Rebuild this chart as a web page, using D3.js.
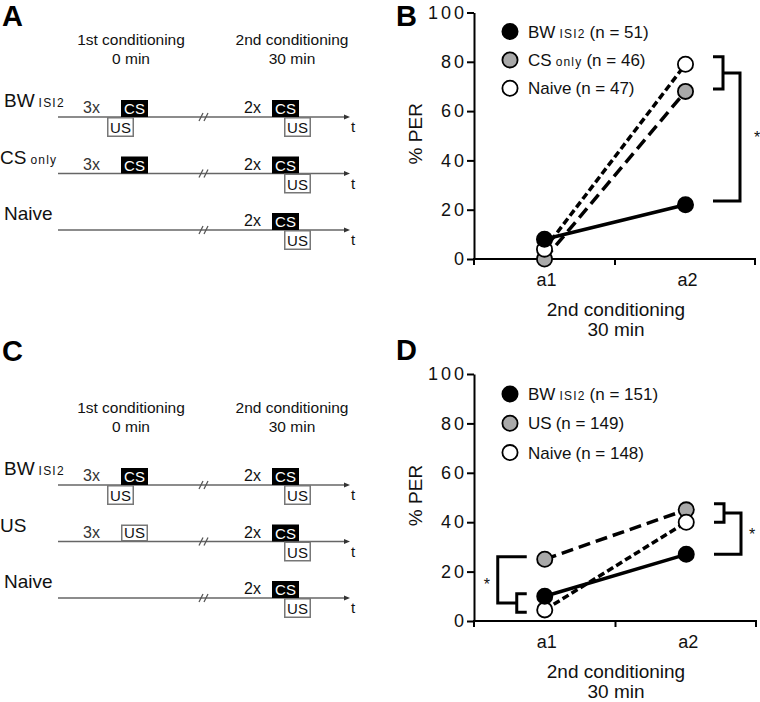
<!DOCTYPE html>
<html><head><meta charset="utf-8">
<script src="https://cdn.jsdelivr.net/npm/d3@7"></script>
<style>
body{margin:0;background:#fff}
svg{display:block;font-family:"Liberation Sans",Arial,Helvetica,sans-serif}
</style>
</head><body>
<svg id="c" width="760" height="702"></svg>
<script>
// ---------------- data ----------------
const categories = ["a1", "a2"];
const yTickValues = [0, 20, 40, 60, 80, 100];
// panel B
const bwB = [8, 22];
const csOnlyB = [0, 68];
const naiveB = [4, 79];
// panel D
const bwD = [10, 27];
const usD = [25, 45];
const naiveD = [4.5, 40];
// legends
const legendB = [["BW", "ISI2", "(n = 51)"], ["CS", "only", "(n = 46)"], ["Naive", "", "(n = 47)"]];
const legendD = [["BW", "ISI2", "(n = 151)"], ["US", "", "(n = 149)"], ["Naive", "", "(n = 148)"]];
const xTitleLines = ["2nd conditioning", "30 min"];
const yTitle = "% PER";
const panelLetters = ["A", "B", "C", "D"];
// significance brackets (in % PER units)
const bracketsB = [{side: "right", small: [82, 69], far: 23.5}];
const bracketsD = [{side: "right", small: [47.5, 40], far: 27}, {side: "left", small: [11, 3.5], far: 26}];
// protocol schematics
const protocolHeaders = [["1st conditioning", "0 min"], ["2nd conditioning", "30 min"]];
const trialCounts = ["3x", "2x"];
const protocolRowsA = [
  {label: "BW", sub: "ISI2", first: ["CS", "US"]},
  {label: "CS", sub: "only", first: ["CS"]},
  {label: "Naive", sub: "", first: []}
];
const protocolRowsC = [
  {label: "BW", sub: "ISI2", first: ["CS", "US"]},
  {label: "US", sub: "", first: ["US"]},
  {label: "Naive", sub: "", first: []}
];

// ---------------- drawing ----------------
const svg = d3.select("#c");
svg.append("rect").attr("width", 760).attr("height", 702).attr("fill", "#fff");

const GREY = "#a9a9a9";
const txt = "#111";

// panel letters
const letterPos = [[2, 26], [396, 26], [2, 361], [396, 360]];
panelLetters.forEach((l, i) => {
  svg.append("text").attr("x", letterPos[i][0]).attr("y", letterPos[i][1])
    .attr("font-size", 29).attr("font-weight", "bold").attr("fill", "#000").text(l);
});

function drawProtocol(dy, rows) {
  const g = svg.append("g").attr("transform", `translate(0,${dy})`);
  const headerX = [131, 292];
  protocolHeaders.forEach((h, i) => {
    h.forEach((t, j) => {
      g.append("text").attr("x", headerX[i]).attr("y", 45 + j * 18.5)
        .attr("text-anchor", "middle").attr("font-size", 15.5).attr("fill", txt).text(t);
    });
  });
  const rowY = [117, 173.5, 230];
  const x0 = 58, x1 = 347;
  rows.forEach((r, i) => {
    const ly = rowY[i];
    // label
    const lt = g.append("text").attr("x", r.label === "CS" || r.label === "US" ? 0 : 4)
      .attr("y", ly - 10).attr("font-size", 19).attr("fill", txt);
    lt.append("tspan").text(r.label);
    if (r.sub) lt.append("tspan").attr("font-size", 12).attr("letter-spacing", 1.2).attr("dx", 4).text(r.sub);
    // timeline
    g.append("line").attr("x1", x0).attr("x2", x1).attr("y1", ly).attr("y2", ly)
      .attr("stroke", "#666").attr("stroke-width", 1.4);
    g.append("path").attr("d", `M${x1 + 3},${ly} L${x1 - 3},${ly - 2.5} L${x1 - 3},${ly + 2.5} Z`).attr("fill", "#333");
    g.append("text").attr("x", 351).attr("y", ly + 15).attr("font-size", 15).attr("fill", txt).text("t");
    // break marks
    [199, 204].forEach(bx => {
      g.append("line").attr("x1", bx).attr("y1", ly + 4).attr("x2", bx + 4).attr("y2", ly - 4)
        .attr("stroke", "#555").attr("stroke-width", 1.2);
    });
    // first conditioning
    if (r.first.length) {
      g.append("text").attr("x", 83).attr("y", ly - 4).attr("font-size", 16).attr("fill", "#333").text(trialCounts[0]);
      drawStim(g, r.first, ly, 121, 107);
    }
    g.append("text").attr("x", 244).attr("y", ly - 4).attr("font-size", 16).attr("fill", txt).text(trialCounts[1]);
    drawStim(g, ["CS", "US"], ly, 272, 284);
  });
}

function drawStim(g, stims, ly, csX, usX) {
  const w = 27;
  stims.forEach(s => {
    if (s === "CS") {
      g.append("rect").attr("x", csX).attr("y", ly - 17).attr("width", w).attr("height", 17).attr("fill", "#000");
      g.append("text").attr("x", csX + w / 2).attr("y", ly - 3).attr("text-anchor", "middle")
        .attr("font-size", 15).attr("fill", "#fff").text("CS");
    } else {
      const onLine = stims.length === 1; // US alone sits above line at CS position
      const bx = onLine ? csX : usX;
      const by = onLine ? ly - 17 : ly;
      const bh = onLine ? 17 : 20;
      g.append("rect").attr("x", bx + 0.75).attr("y", by + 0.75).attr("width", w - 1.5).attr("height", bh - 1.5)
        .attr("fill", "#fff").attr("stroke", "#777").attr("stroke-width", 1.5);
      g.append("text").attr("x", bx + w / 2).attr("y", by + bh - 4).attr("text-anchor", "middle")
        .attr("font-size", 15).attr("fill", txt).text("US");
    }
  });
}

drawProtocol(0, protocolRowsA);
drawProtocol(368, protocolRowsC);

function drawChart(opt) {
  const g = svg.append("g");
  const x = d3.scaleBand().domain(categories).range([474, opt.xEnd]);
  const y = d3.scaleLinear().domain([0, 100]).range([opt.y0, opt.y100]);
  const cx = c => x(c) + x.bandwidth() / 2;

  // y axis
  const ya = g.append("g").attr("transform", "translate(474,0)")
    .call(d3.axisLeft(y).tickValues(yTickValues).tickSize(7).tickSizeOuter(0).tickPadding(0));
  ya.select(".domain").attr("stroke", "#000").attr("stroke-width", 2);
  ya.selectAll(".tick line").attr("stroke", "#000").attr("stroke-width", 2);
  ya.selectAll(".tick text").attr("font-size", 18).attr("letter-spacing", 3)
    .attr("font-family", "Liberation Sans, Arial, sans-serif").attr("fill", "#111");

  // x axis
  g.append("line").attr("x1", 473).attr("x2", opt.xEnd).attr("y1", opt.y0).attr("y2", opt.y0)
    .attr("stroke", "#000").attr("stroke-width", 2);
  const bounds = [x.range()[0], x(categories[1]), x.range()[1] - 1];
  bounds.forEach(b => {
    g.append("line").attr("x1", b).attr("x2", b).attr("y1", opt.y0).attr("y2", opt.y0 + 6)
      .attr("stroke", "#000").attr("stroke-width", 2);
  });
  categories.forEach(c => {
    g.append("text").attr("x", cx(c) + 2).attr("y", opt.y0 + 27).attr("text-anchor", "middle")
      .attr("font-size", 18).attr("fill", "#111").text(c);
  });
  xTitleLines.forEach((t, i) => {
    g.append("text").attr("x", 616).attr("y", opt.y0 + 57 + i * 20).attr("text-anchor", "middle")
      .attr("font-size", 19).attr("fill", "#111").text(t);
  });
  // y title
  g.append("text").attr("transform", `translate(422,${(opt.y0 + opt.y100) / 2 - 2}) rotate(-90)`)
    .attr("text-anchor", "middle").attr("font-size", 19).attr("fill", "#111").text(yTitle);

  // lines
  const line = d3.line().x((d, i) => cx(categories[i])).y(d => y(d));
  opt.series.forEach(s => {
    g.append("path").attr("d", line(s.values)).attr("fill", "none").attr("stroke", "#000")
      .attr("stroke-width", 3.5).attr("stroke-dasharray", s.dash || null);
  });
  // markers
  opt.series.forEach(s => {
    s.values.forEach((v, i) => {
      g.append("circle").attr("cx", cx(categories[i])).attr("cy", y(v)).attr("r", 7.6)
        .attr("fill", s.fill).attr("stroke", "#000").attr("stroke-width", 1.8);
    });
  });

  // legend
  opt.legend.forEach((L, i) => {
    const ly = opt.legendTop + i * opt.legendStep;
    g.append("circle").attr("cx", 510).attr("cy", ly).attr("r", 7.6)
      .attr("fill", opt.legendFills[i]).attr("stroke", "#000").attr("stroke-width", 1.8);
    const t = g.append("text").attr("x", 528).attr("y", ly + 6).attr("font-size", 17).attr("fill", "#111");
    t.append("tspan").text(L[0]);
    if (L[1]) t.append("tspan").attr("font-size", 12).attr("letter-spacing", 1.2).attr("dx", 4).text(L[1]);
    t.append("tspan").attr("dx", 4).text(L[2]);
  });

  // brackets
  opt.brackets.forEach(b => {
    const sw = 3;
    if (b.side === "right") {
      const xr = x.range()[1];
      const sx = xr - 33, bx = xr - 16, stub = 10;
      const yTop = y(b.small[0]), yBot = y(b.small[1]), yMid = (yTop + yBot) / 2, yFar = y(b.far);
      g.append("path").attr("d", `M${sx - stub},${yTop} H${sx} V${yBot} H${sx - stub}`)
        .attr("fill", "none").attr("stroke", "#000").attr("stroke-width", sw);
      g.append("path").attr("d", `M${sx},${yMid} H${bx} V${yFar} H${sx - stub}`)
        .attr("fill", "none").attr("stroke", "#000").attr("stroke-width", sw);
      g.append("text").attr("x", bx + (opt.starDx || 12)).attr("y", (yMid + yFar) / 2 + 6)
        .attr("text-anchor", "middle").attr("font-size", 16).attr("fill", "#111").text("*");
    } else {
      const xa = cx(categories[0]);
      const sx = xa - 28, bx = xa - 47, stub = 10;
      const yTop = y(b.small[0]), yBot = y(b.small[1]), yMid = (yTop + yBot) / 2, yFar = y(b.far);
      g.append("path").attr("d", `M${sx + stub},${yTop} H${sx} V${yBot} H${sx + stub}`)
        .attr("fill", "none").attr("stroke", "#000").attr("stroke-width", sw);
      g.append("path").attr("d", `M${sx},${yMid} H${bx} V${yFar} H${sx + stub}`)
        .attr("fill", "none").attr("stroke", "#000").attr("stroke-width", sw);
      g.append("text").attr("x", bx - 11).attr("y", (yMid + yFar) / 2 + 10)
        .attr("text-anchor", "middle").attr("font-size", 16).attr("fill", "#111").text("*");
    }
  });
}

drawChart({
  xEnd: 756, y0: 259, y100: 12.5,
  series: [
    {values: csOnlyB, fill: GREY, dash: "12,6"},
    {values: naiveB, fill: "#fff", dash: "7,3.5"},
    {values: bwB, fill: "#000", dash: null}
  ],
  legend: legendB, legendFills: ["#000", GREY, "#fff"],
  legendTop: 31.5, legendStep: 28.4,
  brackets: bracketsB, starDx: 17
});

drawChart({
  xEnd: 757, y0: 621, y100: 374,
  series: [
    {values: usD, fill: GREY, dash: "12,6"},
    {values: naiveD, fill: "#fff", dash: "7,3.5"},
    {values: bwD, fill: "#000", dash: null}
  ],
  legend: legendD, legendFills: ["#000", GREY, "#fff"],
  legendTop: 394, legendStep: 29.3,
  brackets: bracketsD, starDx: 11
});
</script>
</body></html>
